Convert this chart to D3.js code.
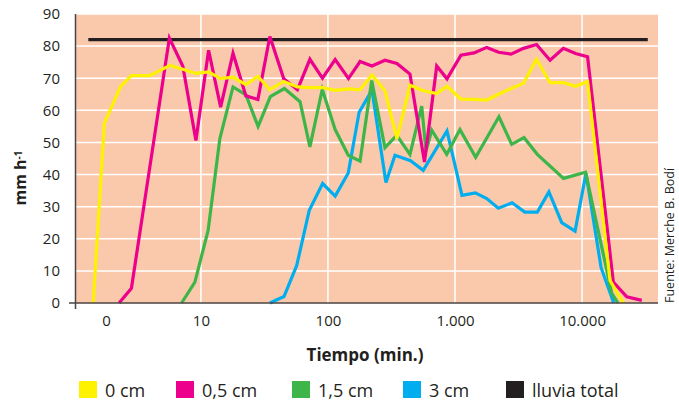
<!DOCTYPE html>
<html>
<head>
<meta charset="utf-8">
<script src="https://cdn.jsdelivr.net/npm/d3@7"></script>
<style>
  body { margin: 0; background: #fff; }
  text { font-family: "Open Sans", sans-serif; fill: #231f20; }
</style>
</head>
<body>
<div id="chart"></div>
<script>

// tiempo (min.) y tasa (mm h-1)
var time0 = [1.42, 1.74, 2.34, 2.84, 3.96, 5.70, 7.21, 9.14, 11.5, 14.3, 17.9, 22.6, 28.1, 34.9, 44.9, 57.5, 72.1, 90.5, 114, 145, 179, 222, 281, 349, 442, 565, 718, 865, 1114, 1411, 1778, 2202, 2762, 3462, 4383, 5598, 7125, 8892, 11050, 16600, 21150];
var rate0 = [0, 56, 67.5, 70.8, 70.8, 74, 72.8, 71.5, 72, 69.9, 70.3, 68, 70.6, 66.4, 69, 67.3, 67.1, 67.1, 66.2, 66.7, 66.4, 71, 66.1, 51.2, 67.8, 66.1, 65.2, 67.5, 63.5, 63.4, 63.2, 65, 66.8, 68.4, 75.9, 68.6, 68.6, 67.5, 69, 7, 0];

var time05 = [2.27, 2.84, 5.65, 7.21, 9.14, 11.5, 14.3, 17.9, 22.6, 28.1, 34.9, 44.9, 57.5, 72.1, 90.5, 114, 145, 179, 222, 281, 349, 442, 575, 718, 865, 1114, 1411, 1778, 2202, 2762, 3462, 4383, 5598, 7125, 8892, 11050, 17620, 22490, 29510];
var rate05 = [0, 4.6, 82.5, 73.7, 50.6, 78.7, 61, 77.8, 64.5, 63.4, 83, 69.8, 66.4, 75.9, 70, 75.8, 69.9, 75.2, 73.8, 75.6, 74.6, 71.3, 43.9, 73.8, 69.8, 77.2, 77.9, 79.6, 78.1, 77.5, 79.3, 80.5, 75.6, 79.3, 77.7, 76.7, 6.5, 1.9, 0.8];

var time15 = [7.05, 8.97, 11.4, 14.1, 17.9, 22.6, 28.2, 35.2, 45.4, 60.3, 72.1, 90.2, 114, 144.5, 179, 221, 281, 348, 442, 547, 591, 656, 861, 1094, 1455, 2218, 2793, 3492, 4446, 7145, 10660, 17130, 19190];
var rate15 = [0, 6.5, 22.6, 51.2, 67.3, 64.8, 55, 64.3, 66.8, 62.7, 48.6, 66.5, 54, 46, 44.2, 69.3, 48.4, 52.2, 46.3, 61.3, 47.3, 53.8, 46.3, 54, 45.4, 58, 49.4, 51.5, 46.3, 38.8, 40.7, 3, 0];

var time3 = [34.9, 45.1, 56.8, 71.3, 90.8, 114, 144.5, 176, 222, 286, 337, 447, 562, 865, 1135, 1445, 1778, 2193, 2812, 3540, 4446, 5483, 6918, 8810, 10740, 14120, 17760];
var rate3 = [0, 2, 11.7, 28.9, 37.2, 33.3, 40.5, 59.4, 66.3, 37.5, 46, 44.3, 41.3, 53.6, 33.5, 34.3, 32.5, 29.5, 31.2, 28.3, 28.3, 34.6, 25, 22.4, 40.4, 11, 0];

var timeLluvia = [1.30, 32900];
var rateLluvia = [82, 82];

var names = ['0 cm', '0,5 cm', '1,5 cm', '3 cm', 'lluvia total'];
var colors = ['#fff200', '#ec008c', '#3db549', '#00aeef', '#231f20'];

var xTickVals = [1.79, 10, 100, 1000, 10000];
var xTickLabels = ['0', '10', '100', '1.000', '10.000'];
var xGridVals = [10, 100, 1000, 10000];
var yTickVals = [0, 10, 20, 30, 40, 50, 60, 70, 80, 90];

var width = 679,
    height = 401;

var plot = {left: 76, right: 658, top: 14, bottom: 303};

var svg = d3.select('#chart')
  .append('svg')
  .attr('width', width)
  .attr('height', height);

var x = d3.scaleLog()
  .domain([1.04, 39600])
  .range([plot.left, plot.right]);

var y = d3.scaleLinear()
  .domain([0, 90])
  .range([plot.bottom, plot.top]);

// fondo
svg.append('rect')
  .attr('x', plot.left)
  .attr('y', plot.top)
  .attr('width', plot.right - plot.left)
  .attr('height', plot.bottom - plot.top)
  .style('fill', '#fac9ab');

// rejilla
svg.append('g')
  .selectAll('line')
  .data(yTickVals.slice(1))
  .enter()
  .append('line')
  .attr('x1', plot.left)
  .attr('x2', plot.right)
  .attr('y1', function(d) { return y(d); })
  .attr('y2', function(d) { return y(d); })
  .style('stroke', '#fff')
  .style('stroke-width', 1.5);

svg.append('g')
  .selectAll('line')
  .data(xGridVals)
  .enter()
  .append('line')
  .attr('x1', function(d) { return x(d); })
  .attr('x2', function(d) { return x(d); })
  .attr('y1', plot.top)
  .attr('y2', plot.bottom)
  .style('stroke', '#fff')
  .style('stroke-width', 1.5);

// ejes
var yAxis = svg.append('g')
  .attr('transform', 'translate(' + plot.left + ',0)')
  .call(d3.axisLeft(y).tickValues(yTickVals).tickSize(0).tickPadding(16));
yAxis.select('.domain').remove();
yAxis.selectAll('text')
  .style('font-size', '15px')
  .style('font-family', '"Open Sans", sans-serif')
  .attr('fill', '#231f20');

var xAxis = svg.append('g')
  .attr('transform', 'translate(0,' + plot.bottom + ')')
  .call(d3.axisBottom(x)
    .tickValues(xTickVals)
    .tickFormat(function(d, i) { return xTickLabels[i]; })
    .tickSize(0)
    .tickPadding(12));
xAxis.select('.domain').remove();
xAxis.selectAll('text')
  .style('font-size', '15px')
  .style('font-family', '"Open Sans", sans-serif')
  .attr('fill', '#231f20');

// series
var series = [
  {name: names[4], color: colors[4], t: timeLluvia, v: rateLluvia},
  {name: names[3], color: colors[3], t: time3, v: rate3},
  {name: names[2], color: colors[2], t: time15, v: rate15},
  {name: names[1], color: colors[1], t: time05, v: rate05},
  {name: names[0], color: colors[0], t: time0, v: rate0}
];

var line = d3.line()
  .x(function(d) { return x(d[0]); })
  .y(function(d) { return y(d[1]); });

svg.append('g')
  .selectAll('path')
  .data(series)
  .enter()
  .append('path')
  .attr('d', function(s) { return line(d3.zip(s.t, s.v)); })
  .style('fill', 'none')
  .style('stroke', function(s) { return s.color; })
  .style('stroke-width', 3.2);

// lineas de ejes encima
svg.append('line')
  .attr('x1', plot.left - 0.5).attr('x2', plot.left - 0.5)
  .attr('y1', plot.top).attr('y2', plot.bottom + 6)
  .style('stroke', '#4a4444').style('stroke-width', 1.5);
svg.append('line')
  .attr('x1', plot.left - 7).attr('x2', plot.right)
  .attr('y1', plot.bottom).attr('y2', plot.bottom)
  .style('stroke', '#4a4444').style('stroke-width', 1.5);

// titulos
svg.append('text')
  .attr('x', 365)
  .attr('y', 361)
  .attr('text-anchor', 'middle')
  .style('font-size', '17px')
  .style('font-weight', 'bold')
  .text('Tiempo (min.)');

var yTitle = svg.append('text')
  .attr('transform', 'translate(26,178) rotate(-90)')
  .attr('text-anchor', 'middle')
  .style('font-size', '16px')
  .style('font-weight', 'bold')
  .text('mm h');
yTitle.append('tspan')
  .attr('dy', '-0.45em')
  .style('font-size', '10px')
  .text('-1');

svg.append('text')
  .attr('transform', 'translate(674,303) rotate(-90)')
  .attr('text-anchor', 'start')
  .style('font-size', '12.5px')
  .text('Fuente: Merche B. Bodí');

// leyenda
var legendX = [79, 176, 292, 403, 506];

var legend = svg.selectAll('.legend')
  .data(names)
  .enter()
  .append('g')
  .attr('class', 'legend')
  .attr('transform', function(d, i) { return 'translate(' + legendX[i] + ',381)'; });

legend.append('rect')
  .attr('width', 18)
  .attr('height', 17)
  .style('fill', function(d, i) { return colors[i]; });

legend.append('text')
  .attr('x', 26)
  .attr('y', 15.5)
  .style('font-size', '18px')
  .text(function(d) { return d; });

</script>
</body>
</html>
